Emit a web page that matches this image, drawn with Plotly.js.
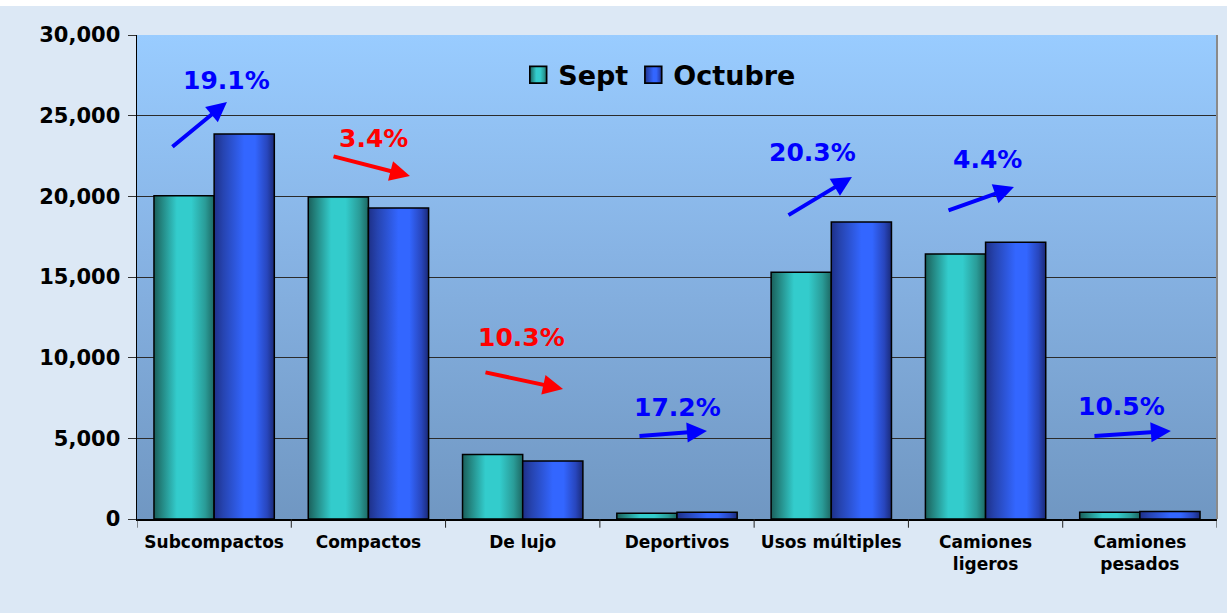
<!DOCTYPE html>
<html>
<head>
<meta charset="utf-8">
<script src="https://cdn.plot.ly/plotly-3.0.1.min.js"></script>
<style>
html,body{margin:0;padding:0;background:#dce8f5;}
#chart{width:1227px;height:613px;}
</style>
</head>
<body>
<div id="chart"></div>
<script>
// ---- data ----
const categories = ["Subcompactos", "Compactos", "De lujo", "Deportivos", "Usos múltiples", "Camiones<br>ligeros", "Camiones<br>pesados"];
const seriesNames = ["Sept", "Octubre"];
const sept = [20030, 19960, 4000, 360, 15300, 16430, 420];
const octubre = [23860, 19280, 3590, 422, 18406, 17150, 464];
const changeLabels = ["19.1%", "3.4%", "10.3%", "17.2%", "20.3%", "4.4%", "10.5%"];
const changeUp = [true, false, false, true, true, true, true];
const yTickVals = [0, 5000, 10000, 15000, 20000, 25000, 30000];
const yTickText = ["0", "5,000", "10,000", "15,000", "20,000", "25,000", "30,000"];

// ---- layout of arrows (positions in axis units: category index, value) ----
const arrowPos = [
  {tail:[-0.28, 23000], head:[0.083, 25850], label:[0.077, 27210]},
  {tail:[0.764, 22500], head:[1.269, 21260], label:[1.03, 23615]},
  {tail:[1.749, 9110], head:[2.261, 8060], label:[1.995, 11280]},
  {tail:[2.747, 5144], head:[3.194, 5455], label:[3.0, 6942]},
  {tail:[3.713, 18780], head:[4.134, 21200], label:[3.881, 22747]},
  {tail:[4.75, 19090], head:[5.184, 20577], label:[5.015, 22313]},
  {tail:[5.696, 5144], head:[6.201, 5455], label:[5.884, 7004]}
];

const FONT = "DejaVu Sans, Arial, sans-serif";
const xIdx = categories.map((c, i) => i);

const traces = [
  {type:"bar", name:"<b>" + seriesNames[0] + "</b>", x:xIdx, y:sept,
   marker:{color:"#33CCCC", line:{color:"#000000", width:1.5}}, hoverinfo:"y"},
  {type:"bar", name:"<b>" + seriesNames[1] + "</b>", x:xIdx, y:octubre,
   marker:{color:"#3366FF", line:{color:"#000000", width:1.5}}, hoverinfo:"y"}
];

const annotations = [];
arrowPos.forEach((p, i) => {
  const col = changeUp[i] ? "#0000FF" : "#FF0000";
  annotations.push({
    x:p.head[0], y:p.head[1], xref:"x", yref:"y",
    ax:p.tail[0], ay:p.tail[1], axref:"x", ayref:"y",
    showarrow:true, arrowhead:2, arrowsize:1, arrowwidth:4, arrowcolor:col, text:""
  });
  annotations.push({
    x:p.label[0], y:p.label[1], xref:"x", yref:"y", showarrow:false,
    text:"<b>" + changeLabels[i] + "</b>",
    font:{family:FONT, size:25, color:col}
  });
});

const layout = {
  width:1227, height:613,
  margin:{l:137, r:10, t:35, b:94},
  paper_bgcolor:"#dce8f5",
  plot_bgcolor:"#88b0dd",
  barmode:"group", bargap:0.22, bargroupgap:0,
  showlegend:true,
  legend:{orientation:"h", x:0.484, xanchor:"center", y:0.917, yanchor:"middle",
          bgcolor:"rgba(0,0,0,0)", font:{family:FONT, size:27, color:"#000"},
          itemwidth:30, traceorder:"normal"},
  xaxis:{
    type:"linear", range:[-0.5, 6.5], tickmode:"array", tickvals:xIdx,
    ticktext:categories.map(c => "<b>" + c + "</b>"),
    tickfont:{family:FONT, size:17, color:"#000"},
    showgrid:false, zeroline:false,
    showline:true, linecolor:"#000", linewidth:1.5,
    ticks:"", ticklabelstandoff:7, fixedrange:true
  },
  yaxis:{
    range:[0, 30000], tickmode:"array", tickvals:yTickVals,
    ticktext:yTickText.map(t => "<b>" + t + "</b>"),
    tickfont:{family:FONT, size:21, color:"#000"},
    showgrid:true, gridcolor:"#2b2b2b", gridwidth:1,
    zeroline:false, showline:true, linecolor:"#000", linewidth:1.5,
    ticks:"outside", ticklen:8, tickcolor:"#333", ticklabelstandoff:3,
    mirror:false, fixedrange:true
  },
  annotations:annotations,
  shapes:[
    // x-axis boundary ticks (category separators)
    ...[0,1,2,3,4,5,6,7].map(k => ({type:"line", xref:"x", yref:"paper",
      x0:k-0.5, x1:k-0.5, y0:0, y1:-0.018, line:{color:"#222", width:1}})),
    {type:"line", xref:"paper", yref:"paper", x0:1, x1:1, y0:0, y1:1,
     line:{color:"#8a8a8a", width:2}},
    // white strip at the very top of the picture
    {type:"rect", xref:"paper", yref:"paper", x0:-0.2, x1:1.02, y0:1.06, y1:1.08,
     fillcolor:"#ffffff", line:{width:0}, layer:"above"}
  ]
};

Plotly.newPlot("chart", traces, layout, {displayModeBar:false, staticPlot:true}).then(gd => {
  const svg = gd.querySelector("svg.main-svg");
  const NS = "http://www.w3.org/2000/svg";
  let defs = svg.querySelector("defs");
  if (!defs) { defs = document.createElementNS(NS, "defs"); svg.insertBefore(defs, svg.firstChild); }
  function grad(id, stops, vertical) {
    const g = document.createElementNS(NS, "linearGradient");
    g.setAttribute("id", id);
    g.setAttribute("x1", "0"); g.setAttribute("y1", "0");
    g.setAttribute("x2", vertical ? "0" : "1"); g.setAttribute("y2", vertical ? "1" : "0");
    stops.forEach(s => {
      const st = document.createElementNS(NS, "stop");
      st.setAttribute("offset", s[0]); st.setAttribute("stop-color", s[1]);
      g.appendChild(st);
    });
    defs.appendChild(g);
  }
  grad("gSept", [["0","#1b5f5b"],["0.12","#23837e"],["0.38","#33cccc"],["0.62","#33cccc"],["0.85","#2a9c98"],["1","#1d6863"]], false);
  grad("gOct", [["0","#1e3088"],["0.15","#2644b0"],["0.5","#3366ff"],["0.68","#3366ff"],["0.88","#2846bd"],["1","#1a2a78"]], false);
  grad("gBg", [["0","#99ccff"],["0.45","#87b3e4"],["1","#7097c2"]], true);

  const bg = svg.querySelector(".bglayer rect.bg");
  if (bg) bg.style.fill = "url(#gBg)";
  const barTraces = svg.querySelectorAll(".barlayer .trace");
  barTraces.forEach((t, i) => {
    t.querySelectorAll("path").forEach(p => p.style.fill = i === 0 ? "url(#gSept)" : "url(#gOct)");
  });
  const legTraces = svg.parentNode.querySelectorAll(".legend .traces");
  legTraces.forEach((t, i) => {
    t.querySelectorAll(".legendpoints path").forEach(p => {
      p.style.fill = i === 0 ? "url(#gSept)" : "url(#gOct)";
      p.style.stroke = "#000"; p.style.strokeWidth = "1.2px";
      const tr = p.getAttribute("transform") || "";
      p.setAttribute("transform", tr + " scale(1.4)");
    });
  });
});
</script>
</body>
</html>
